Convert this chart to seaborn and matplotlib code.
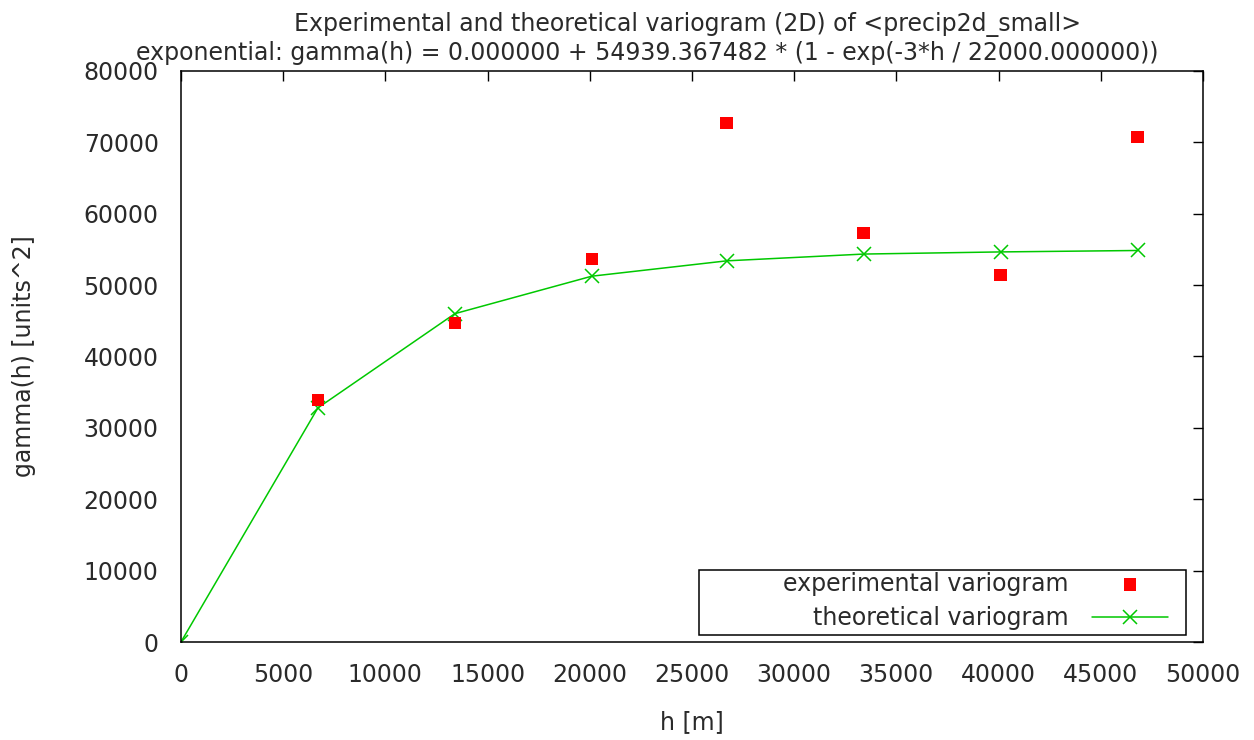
import matplotlib
matplotlib.use("Agg")
import matplotlib.pyplot as plt
from matplotlib.patches import Rectangle
import seaborn as sns
import pandas as pd

# Lag distances (m) and variogram values
lag_exp = [6700, 13400, 20100, 26700, 33400, 40100, 46800]
gamma_exp = [33900, 44700, 53650, 72700, 57300, 51400, 70750]

lag_theo = [0, 6700, 13400, 20100, 26700, 33400, 40100, 46800]
gamma_theo = [0, 32800, 46000, 51250, 53400, 54350, 54650, 54850]

x_ticks = [0, 5000, 10000, 15000, 20000, 25000, 30000, 35000, 40000, 45000, 50000]
y_ticks = [0, 10000, 20000, 30000, 40000, 50000, 60000, 70000, 80000]

title_lines = [
    "Experimental and theoretical variogram (2D) of <precip2d_small>",
    "exponential: gamma(h) = 0.000000 + 54939.367482 * (1 - exp(-3*h / 22000.000000))",
]

FS = 17
TXT = "#2a2a2a"

sns.set_style("white")
plt.rcParams["font.family"] = ["DejaVu Sans"]

fig = plt.figure(figsize=(12.54, 7.40), dpi=100)
ax = fig.add_axes([0.1443, 0.1324, 0.8150, 0.7717])

df_exp = pd.DataFrame({"h": lag_exp, "gamma": gamma_exp})
df_theo = pd.DataFrame({"h": lag_theo, "gamma": gamma_theo})

sns.lineplot(data=df_theo, x="h", y="gamma", ax=ax, color="#00c800",
             linewidth=1.1, marker="x", markersize=10, markeredgewidth=1.1,
             markeredgecolor="#00c800", label="theoretical variogram",
             zorder=2)
sns.scatterplot(data=df_exp, x="h", y="gamma", ax=ax, color="#ff0000",
                marker="s", s=80, edgecolor="none",
                label="experimental variogram", zorder=3)

ax.set_xlim(0, 50000)
ax.set_ylim(0, 80000)
ax.set_xticks(x_ticks)
ax.set_yticks(y_ticks)
ax.tick_params(direction="in", length=7, width=1, top=True, right=True,
               labelsize=FS, colors="black", labelcolor=TXT, pad=15)
ax.tick_params(axis="y", pad=16)
for s in ax.spines.values():
    s.set_color("black")
    s.set_linewidth(1.1)

ax.set_xlabel("h [m]", fontsize=FS, color=TXT, labelpad=17)
ax.set_ylabel("gamma(h) [units^2]", fontsize=FS, color=TXT, labelpad=34)

fig.text(688 / 1254, 1 - 31 / 740, title_lines[0], ha="center", va="baseline",
         fontsize=FS, color=TXT)
fig.text(647.5 / 1254, 1 - 60 / 740, title_lines[1], ha="center", va="baseline",
         fontsize=FS, color=TXT)

# Legend box in the lower right corner of the plot area
ax.add_patch(Rectangle((0.507, 0.012), 0.476, 0.114, transform=ax.transAxes,
                       facecolor="white", edgecolor="black", linewidth=1.1,
                       zorder=4))
handles, labels = ax.get_legend_handles_labels()
order = [labels.index("experimental variogram"), labels.index("theoretical variogram")]
leg = ax.legend([handles[i] for i in order], [labels[i] for i in order],
                loc="lower right", bbox_to_anchor=(0.97, 0.012),
                markerfirst=False, frameon=False, fontsize=FS,
                handlelength=3.2, handletextpad=1.0, borderpad=0.2,
                labelspacing=0.45, borderaxespad=0)
leg.set_zorder(5)
for t in leg.get_texts():
    t.set_color(TXT)
    t.set_ha("right")

fig.savefig("out.png", dpi=100)
